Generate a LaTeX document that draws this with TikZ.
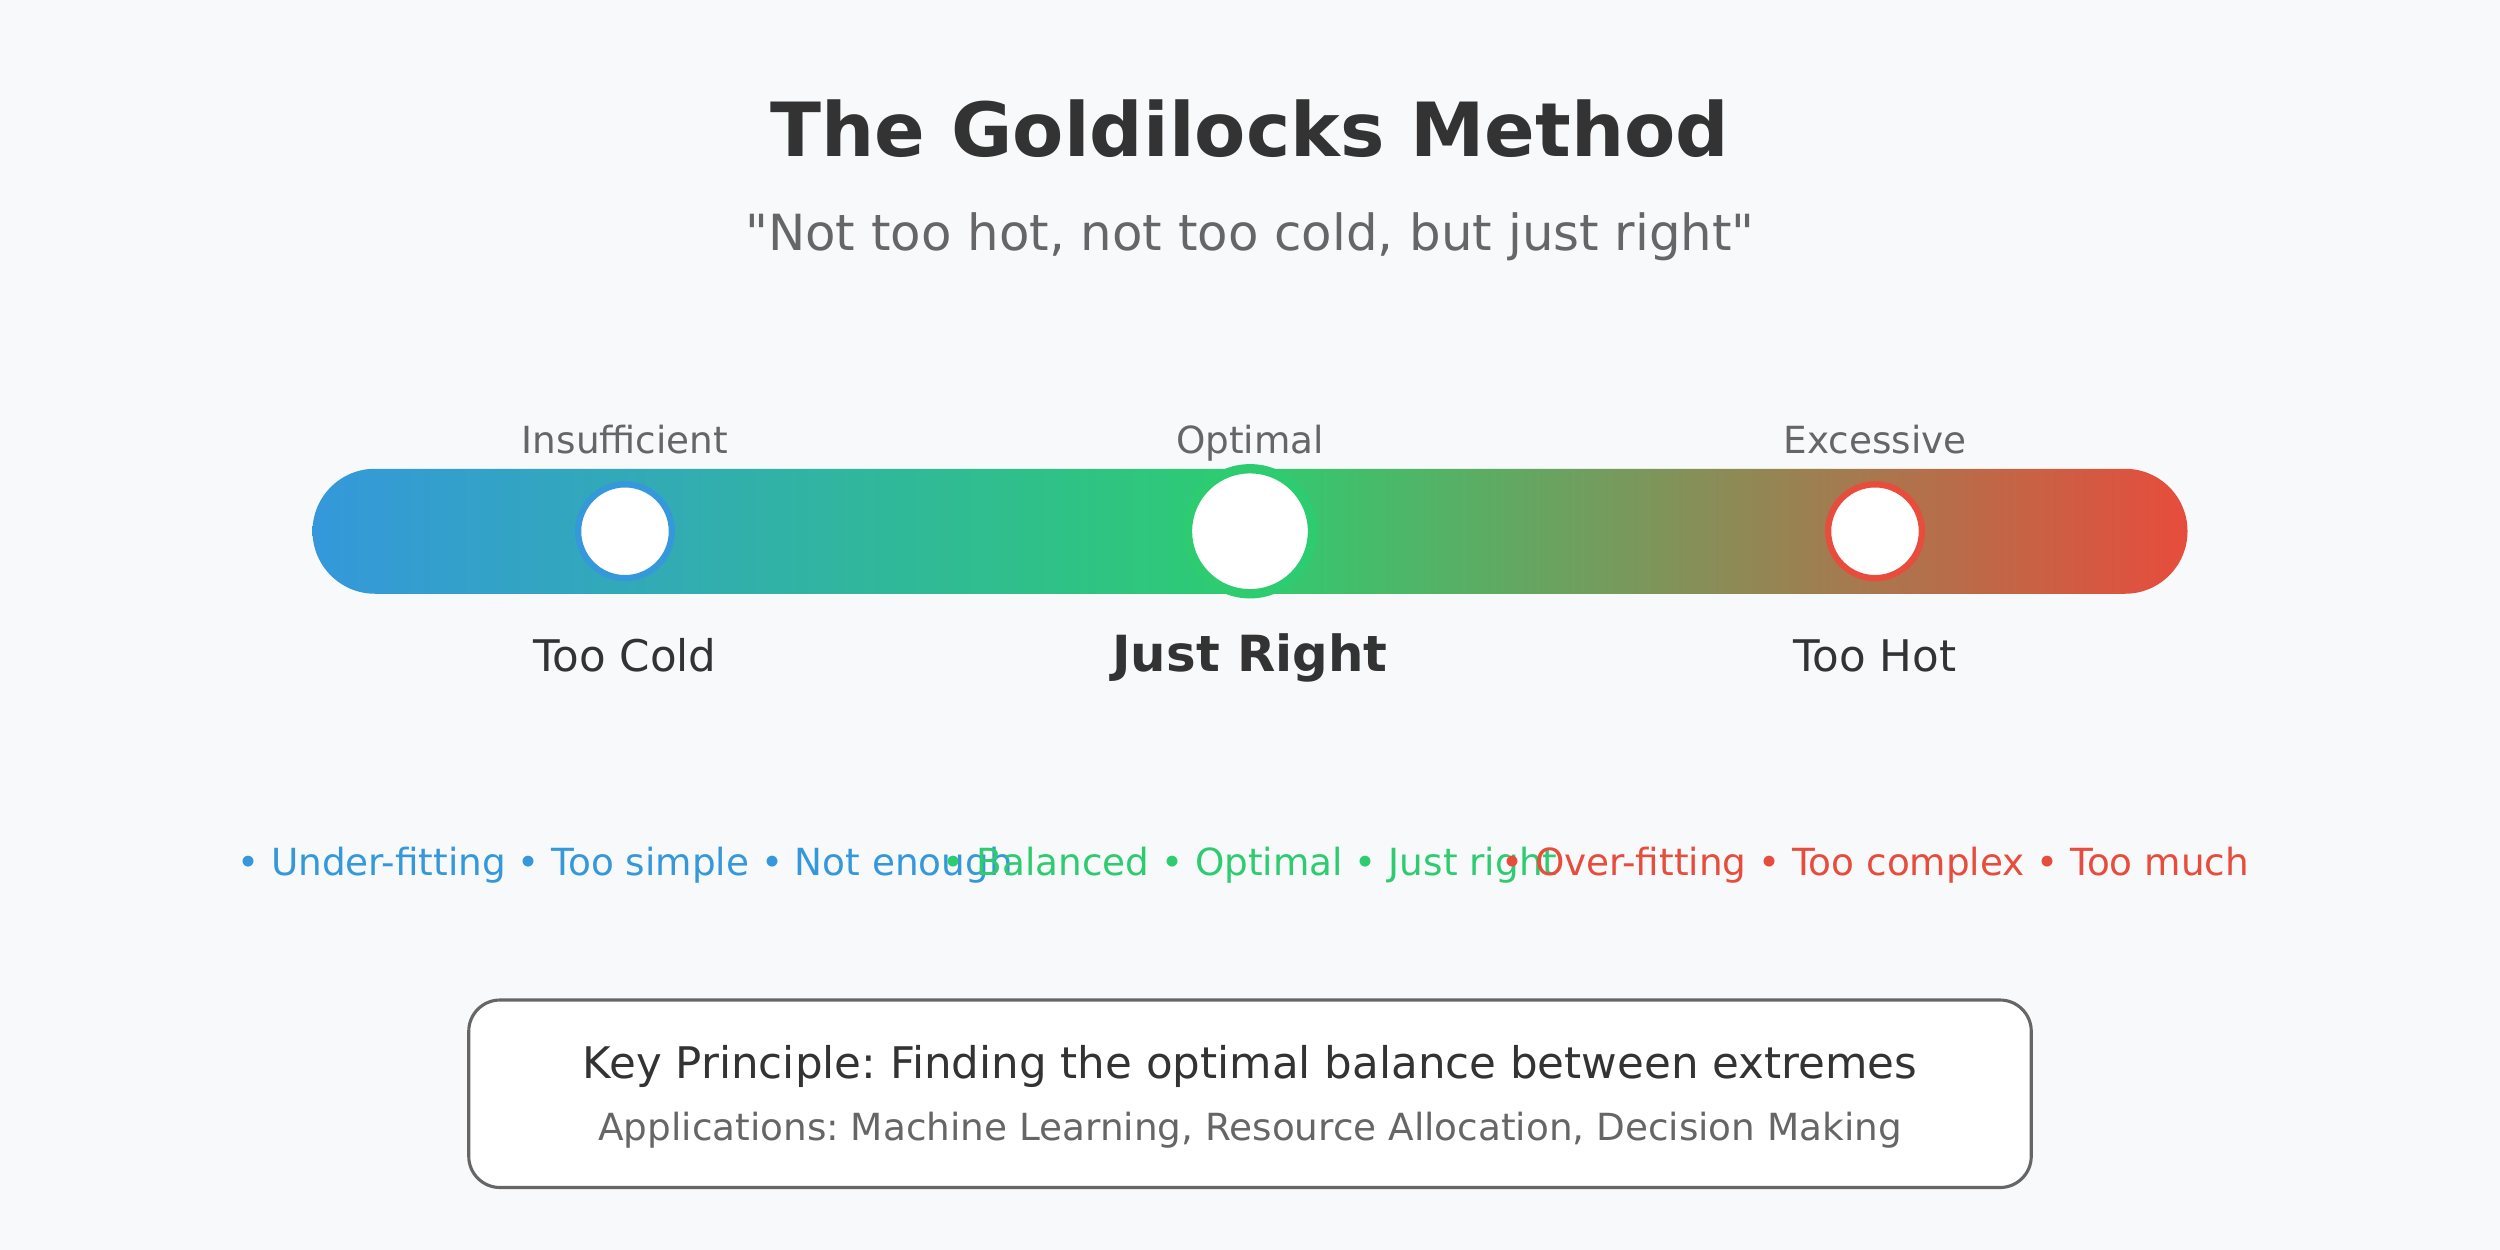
\documentclass[tikz,border=0pt]{standalone}
\usepackage{fontspec}
\setmainfont{DejaVu Sans}[Ligatures=TeXOff]
\usetikzlibrary{positioning}
\definecolor{bgcol}{HTML}{F8F9FA}
\definecolor{coldcol}{HTML}{3498DB}
\definecolor{rightcol}{HTML}{2ECC71}
\definecolor{hotcol}{HTML}{E74C3C}
\definecolor{darktext}{HTML}{333333}
\definecolor{greytext}{HTML}{666666}
\frenchspacing
\begin{document}
\begin{tikzpicture}[x=0.03125cm,y=-0.03125cm,
	lbl/.style={anchor=base,inner sep=0pt},
	knob/.style={circle,fill=white,inner sep=0pt},
	small/.style={font=\fontsize{10.63}{13}\selectfont},
	mid/.style={font=\fontsize{12.4}{15}\selectfont}]
	%background
	\fill[bgcol] (0,0) rectangle (800,400);
	\useasboundingbox (0,0) rectangle (800,400);
	
	%title and subtitle
	\node[lbl,text=darktext,font=\fontsize{21.26}{25}\selectfont\bfseries] (title) at (400,50) {The Goldilocks Method}; %title
	\node[lbl,text=greytext,font=\fontsize{14.17}{17}\selectfont] (subtitle) at (400,80) {"Not too hot, not too cold, but just right"}; %subtitle
	
	%scale
		%bar
		\shade[left color=coldcol,right color=hotcol,middle color=rightcol,rounded corners=0.625cm] (100,150) rectangle (700,190); %gradient bar
		
		%knobs
		\node[knob,draw=coldcol,line width=1.77pt,minimum size=0.9375cm] (cold) at (200,170) {}; %cold knob
		\node[knob,draw=rightcol,line width=2.66pt,minimum size=1.25cm] (just) at (400,170) {}; %just right knob
		\node[knob,draw=hotcol,line width=1.77pt,minimum size=0.9375cm] (hot) at (600,170) {}; %hot knob
		
		%labels above
		\node[lbl,small,text=greytext] (insuff) at (200,145) {Insufficient};
		\node[lbl,small,text=greytext] (optimal) at (400,145) {Optimal};
		\node[lbl,small,text=greytext] (excess) at (600,145) {Excessive};
		
		%labels below
		\node[lbl,mid,text=darktext] (toocold) at (200,215) {Too Cold};
		\node[lbl,text=darktext,font=\fontsize{14.17}{17}\selectfont\bfseries] (justright) at (400,215) {Just Right};
		\node[lbl,mid,text=darktext] (toohot) at (600,215) {Too Hot};
	
	%traits
	\node[lbl,small,text=coldcol] (coldtraits) at (200,280) {• Under-fitting • Too simple • Not enough};
	\node[lbl,small,text=rightcol] (justtraits) at (400,280) {• Balanced • Optimal • Just right};
	\node[lbl,small,text=hotcol] (hottraits) at (600,280) {• Over-fitting • Too complex • Too much};
	
	%key principle box
	\node[draw=greytext,fill=white,line width=0.886pt,rounded corners=0.3125cm,minimum width=15.625cm,minimum height=1.875cm] (keybox) at (400,350) {};
	\node[lbl,mid,text=darktext] (keytext) at (400,345) {Key Principle: Finding the optimal balance between extremes};
	\node[lbl,small,text=greytext] (apptext) at (400,365) {Applications: Machine Learning, Resource Allocation, Decision Making};
\end{tikzpicture}
\end{document}
